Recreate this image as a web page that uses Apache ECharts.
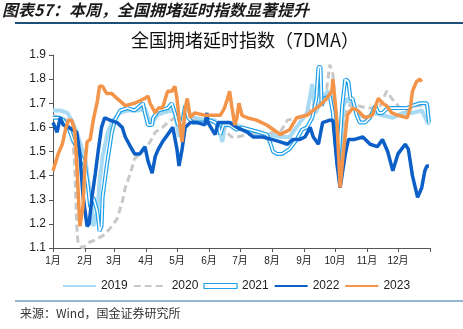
<!DOCTYPE html>
<html><head><meta charset="utf-8">
<script src="https://cdn.jsdelivr.net/npm/echarts@6/dist/echarts.min.js"></script>
<style>html,body{margin:0;padding:0;background:#fff}#c{width:463px;height:329px}</style>
</head><body><div id="c"></div>
<script>
// ---- data (day of year, value) ----
const monthStarts = [0,31,59,90,120,151,181,212,243,273,304,334,365];
const monthLabels = ['1月','2月','3月','4月','5月','6月','7月','8月','9月','10月','11月','12月'];
const yTicks = [1.1,1.2,1.3,1.4,1.5,1.6,1.7,1.8,1.9];
const names = ['2019','2020','2021','2022','2023'];

const s2019 = [[0,1.67],[2,1.67],[7,1.67],[14,1.66],[18,1.63],[23,1.58],[28,1.51],[31,1.48],[34,1.38],[38,1.25],[39,1.19],[43,1.25],[45,1.37],[48,1.48],[53,1.58],[58,1.63],[65,1.66],[72,1.67],[79,1.67],[84,1.67],[89,1.68],[92,1.64],[96,1.62],[101,1.65],[106,1.66],[115,1.67],[118,1.66],[122,1.56],[125,1.62],[130,1.66],[137,1.64],[147,1.63],[157,1.63],[162,1.57],[164,1.54],[166,1.60],[173,1.62],[183,1.60],[191,1.58],[200,1.57],[210,1.57],[220,1.56],[229,1.56],[239,1.62],[246,1.66],[251,1.78],[254,1.66],[261,1.72],[266,1.75],[271,1.72],[275,1.50],[277,1.37],[281,1.69],[285,1.72],[290,1.69],[297,1.65],[304,1.64],[310,1.66],[319,1.65],[329,1.64],[339,1.66],[348,1.66],[357,1.67],[364,1.61]];

const s2020 = [[0,1.65],[7,1.64],[14,1.63],[18,1.60],[21,1.45],[23,1.19],[24,1.13],[26,1.11],[29,1.10],[33,1.12],[39,1.13],[48,1.15],[55,1.18],[62,1.22],[67,1.29],[70,1.35],[75,1.41],[79,1.47],[84,1.49],[89,1.51],[94,1.54],[99,1.58],[106,1.60],[111,1.62],[118,1.64],[125,1.62],[135,1.63],[147,1.62],[157,1.62],[162,1.62],[168,1.58],[173,1.56],[178,1.56],[188,1.57],[197,1.57],[207,1.57],[213,1.58],[220,1.58],[227,1.63],[237,1.64],[247,1.66],[252,1.69],[257,1.73],[261,1.75],[265,1.76],[268,1.86],[271,1.82],[275,1.60],[278,1.35],[281,1.60],[285,1.68],[289,1.70],[295,1.69],[304,1.68],[310,1.68],[317,1.69],[323,1.75],[328,1.72],[336,1.68],[343,1.67],[352,1.69],[360,1.69],[364,1.68]];

const s2021 = [[0,1.64],[7,1.64],[10,1.63],[15,1.60],[19,1.55],[26,1.49],[31,1.44],[34,1.35],[36,1.27],[39,1.31],[43,1.25],[45,1.17],[47,1.19],[48,1.31],[52,1.44],[57,1.58],[60,1.63],[65,1.67],[72,1.68],[79,1.67],[87,1.70],[89,1.66],[92,1.61],[96,1.61],[97,1.64],[102,1.67],[111,1.68],[115,1.70],[118,1.66],[121,1.61],[125,1.62],[128,1.69],[131,1.64],[135,1.62],[147,1.62],[152,1.63],[157,1.62],[160,1.61],[162,1.57],[165,1.61],[171,1.61],[178,1.59],[183,1.60],[191,1.59],[200,1.58],[207,1.57],[210,1.54],[213,1.50],[217,1.49],[222,1.49],[229,1.51],[236,1.55],[241,1.59],[246,1.60],[251,1.64],[255,1.72],[257,1.85],[259,1.85],[260,1.69],[263,1.72],[268,1.73],[271,1.66],[276,1.42],[280,1.69],[283,1.80],[286,1.79],[288,1.72],[290,1.72],[294,1.65],[297,1.62],[302,1.62],[307,1.64],[312,1.69],[315,1.66],[319,1.66],[324,1.68],[333,1.68],[343,1.68],[348,1.69],[355,1.70],[362,1.70],[364,1.62]];

const s2022 = [[0,1.62],[4,1.58],[7,1.64],[10,1.61],[15,1.60],[19,1.59],[23,1.58],[26,1.49],[29,1.32],[33,1.19],[35,1.20],[38,1.32],[41,1.41],[44,1.51],[47,1.60],[50,1.64],[55,1.63],[62,1.62],[67,1.60],[70,1.56],[75,1.52],[79,1.49],[84,1.49],[89,1.52],[92,1.46],[96,1.41],[99,1.48],[102,1.51],[106,1.54],[111,1.57],[116,1.60],[120,1.51],[122,1.44],[125,1.51],[128,1.60],[133,1.62],[140,1.62],[147,1.61],[149,1.66],[150,1.62],[157,1.57],[160,1.62],[165,1.62],[171,1.62],[178,1.60],[188,1.58],[194,1.56],[203,1.56],[212,1.55],[220,1.54],[227,1.53],[232,1.55],[239,1.55],[244,1.56],[249,1.60],[252,1.56],[257,1.53],[261,1.62],[268,1.63],[271,1.63],[275,1.45],[278,1.35],[283,1.49],[286,1.55],[292,1.55],[300,1.56],[307,1.53],[314,1.52],[319,1.55],[324,1.50],[329,1.42],[334,1.49],[341,1.53],[344,1.51],[348,1.40],[353,1.31],[357,1.35],[360,1.42],[362,1.44],[364,1.44]];

const s2023 = [[0,1.42],[5,1.49],[9,1.53],[12,1.59],[15,1.63],[18,1.63],[21,1.59],[23,1.45],[26,1.19],[29,1.27],[31,1.45],[33,1.54],[36,1.55],[39,1.63],[43,1.71],[45,1.77],[48,1.77],[52,1.74],[57,1.74],[62,1.72],[70,1.69],[79,1.70],[89,1.72],[92,1.73],[94,1.70],[99,1.66],[102,1.68],[106,1.68],[111,1.75],[115,1.75],[118,1.77],[120,1.72],[123,1.60],[125,1.54],[128,1.68],[130,1.72],[133,1.64],[137,1.66],[147,1.65],[152,1.65],[162,1.65],[166,1.68],[169,1.72],[171,1.75],[173,1.69],[176,1.61],[178,1.64],[180,1.70],[183,1.65],[188,1.64],[197,1.63],[207,1.61],[217,1.58],[220,1.57],[229,1.59],[236,1.64],[246,1.65],[252,1.67],[258,1.69],[265,1.72],[270,1.75],[271,1.80],[275,1.62],[278,1.35],[281,1.49],[285,1.65],[290,1.68],[295,1.67],[302,1.64],[309,1.65],[315,1.72],[319,1.70],[323,1.69],[328,1.66],[334,1.65],[343,1.64],[346,1.68],[348,1.75],[352,1.79],[355,1.80],[357,1.79]];

// ---- styles ----
const C19 = '#a9daf4', C20 = '#c8c8c8', C21 = '#1ea0e8', C22 = '#0b5fc6', C23 = '#f39448';
const FONT = '"Liberation Sans", "Noto Sans CJK SC", sans-serif';

const chart = echarts.init(document.getElementById('c'), null, {renderer: 'canvas'});
const lineBase = {type: 'line', symbol: 'none', showSymbol: false, smooth: false, animation: false};
chart.setOption({
  animation: false,
  title: {
    text: '全国拥堵延时指数（7DMA）', left: 131, top: 31, padding: 0,
    textStyle: {fontFamily: '"Noto Sans CJK SC", sans-serif', fontSize: 18, fontWeight: 'normal', color: '#111'}
  },
  grid: {left: 53, right: 33, top: 55, bottom: 81},
  xAxis: {
    type: 'value', min: 0, max: 365,
    axisLine: {onZero: false, lineStyle: {color: '#555', width: 1}},
    axisTick: {show: true, length: 4, customValues: monthStarts, lineStyle: {color: '#555'}},
    axisLabel: {customValues: monthStarts.slice(0, 12), margin: 8, fontSize: 10, color: '#222', fontFamily: FONT,
      formatter: v => monthLabels[monthStarts.indexOf(v)] || ''},
    splitLine: {show: false}
  },
  yAxis: {
    type: 'value', min: yTicks[0], max: yTicks[yTicks.length - 1], interval: 0.1,
    axisLine: {show: true, lineStyle: {color: '#555', width: 1}},
    axisTick: {show: true, length: 4, lineStyle: {color: '#555'}},
    axisLabel: {margin: 7, fontSize: 12, color: '#222', fontFamily: FONT, formatter: v => v.toFixed(1)},
    splitLine: {show: false}
  },
  legend: {
    left: 62, top: 280, padding: 0, itemWidth: 33, itemHeight: 5, itemGap: 5,
    itemStyle: {opacity: 0},
    textStyle: {fontSize: 12, color: '#222', fontFamily: FONT},
    data: [
      {name: '2019'}, {name: '2020'},
      {name: '2021', icon: 'rect', itemStyle: {color: '#fff', borderColor: C21, borderWidth: 1.2, opacity: 1}},
      {name: '2022'}, {name: '2023'}
    ]
  },
  graphic: [
    {type: 'text', left: 2, top: 2, style: {text: '图表57：本周，全国拥堵延时指数显著提升',
      font: 'italic bold 16px "Noto Sans CJK SC", sans-serif', fill: '#1a1a1a'}},
    {type: 'line', shape: {x1: 15, y1: 23, x2: 463, y2: 23}, style: {stroke: '#1f4f78', lineWidth: 2}},
    {type: 'line', shape: {x1: 15, y1: 301, x2: 463, y2: 301}, style: {stroke: '#2f6fa8', lineWidth: 1.2}},
    {type: 'text', left: 20, top: 307, style: {text: '来源：Wind，国金证券研究所',
      font: '12px "Noto Sans CJK SC", sans-serif', fill: '#333'}}
  ],
  series: [
    Object.assign({}, lineBase, {name: names[0], data: s2019, z: 2, lineStyle: {color: C19, width: 4}, itemStyle: {color: C19}}),
    Object.assign({}, lineBase, {name: names[1], data: s2020, z: 3, lineStyle: {color: C20, width: 3, type: [7, 4]}, itemStyle: {color: C20}}),
    Object.assign({}, lineBase, {name: names[2], data: s2021, z: 4, lineStyle: {color: C21, width: 4}, itemStyle: {color: C21}}),
    Object.assign({}, lineBase, {name: '2021inner', data: s2021, z: 4, lineStyle: {color: '#fff', width: 1.6}, itemStyle: {color: '#fff'}}),
    Object.assign({}, lineBase, {name: names[3], data: s2022, z: 5, lineStyle: {color: C22, width: 3.5}, itemStyle: {color: C22}}),
    Object.assign({}, lineBase, {name: names[4], data: s2023, z: 6, lineStyle: {color: C23, width: 3.5}, itemStyle: {color: C23}})
  ]
});
</script></body></html>
